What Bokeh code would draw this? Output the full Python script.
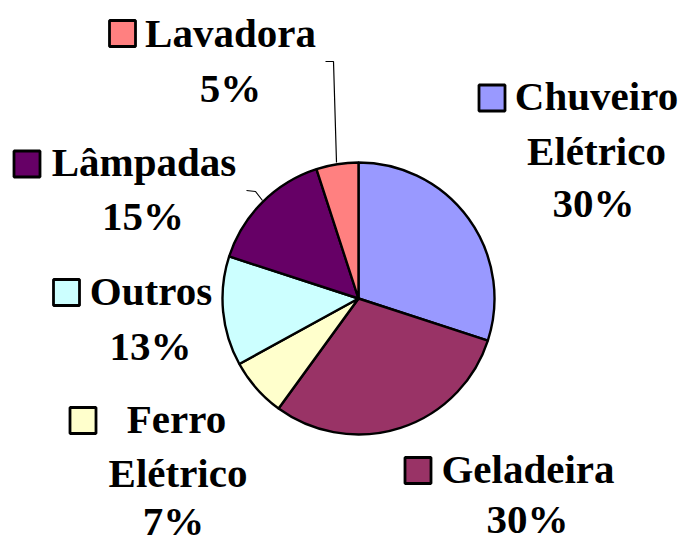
import math
from bokeh.plotting import figure
from bokeh.models import Range1d, ColumnDataSource
from bokeh.core.properties import value
from bokeh.embed import file_html
from bokeh.resources import INLINE

# ---- data ----
categories = ["Chuveiro Elétrico", "Geladeira", "Ferro Elétrico", "Outros", "Lâmpadas", "Lavadora"]
percents = [30, 30, 7, 13, 15, 5]
colors = ["#9999FF", "#993366", "#FFFFCC", "#CCFFFF", "#660066", "#FF8080"]
label_lines = [["Chuveiro", "Elétrico", "30%"],
               ["Geladeira", "30%"],
               ["Ferro", "Elétrico", "7%"],
               ["Outros", "13%"],
               ["Lâmpadas", "15%"],
               ["Lavadora", "5%"]]

# ---- layout (pixel coordinates of the picture) ----
W, H = 681, 542
def Y(py):
    return 542 - py

cx, cy, R = 358, Y(298), 136
TXT_SHIFT = 15  # renderer places the text baseline lower than asked
# per category: key centre, then (centre x, baseline y) of each line
key_pos = [(491.5, 97.5), (417.5, 470), (82.5, 420), (66, 292), (26.5, 163.5), (122, 33)]
line_pos = [[(596, 110), (596, 165), (593, 217)],
            [(527.5, 483), (527, 533)],
            [(176, 433), (177.5, 487), (173, 535)],
            [(150.5, 305), (150, 360)],
            [(143.5, 176), (142.5, 230)],
            [(230, 47), (230, 102)]]

p = figure(width=W, height=H, output_backend="svg", toolbar_location=None,
           x_range=Range1d(0, W), y_range=Range1d(Y(H), Y(0)),
           min_border=0)
p.axis.visible = False
p.grid.visible = False
p.outline_line_color = None
p.background_fill_color = "white"
p.border_fill_color = "white"

# wedges
total = float(sum(percents))
starts, ends = [], []
cum = 0.0
for v in percents:
    starts.append(math.pi / 2 - 2 * math.pi * cum / total)
    cum += v
    ends.append(math.pi / 2 - 2 * math.pi * cum / total)
src = ColumnDataSource(dict(start=starts, end=ends, color=colors))
p.wedge(x=cx, y=cy, radius=R, start_angle="start", end_angle="end",
        direction="clock", fill_color="color", line_color="black",
        line_width=2.4, source=src)

# leader lines
p.line(x=[325, 333, 336], y=[Y(61), Y(61), Y(162)], line_color="black", line_width=1.2)
p.line(x=[246, 255, 262], y=[Y(190), Y(191), Y(200)], line_color="black", line_width=1.2)

# legend keys
p.rect(x=[k[0] for k in key_pos], y=[Y(k[1]) for k in key_pos], width=26, height=26,
       fill_color=colors, line_color="black", line_width=2.8)

# labels
tx, ty, tt = [], [], []
for lines, poss in zip(label_lines, line_pos):
    for s, (x, y) in zip(lines, poss):
        tx.append(x); ty.append(Y(y - TXT_SHIFT)); tt.append(s)
p.text(x=tx, y=ty, text=tt, text_align="center", text_baseline="alphabetic",
       text_font=value("Liberation Serif"), text_font_style="bold",
       text_font_size="41px", text_color="black")

open("out.html", "w").write(file_html(p, INLINE))
